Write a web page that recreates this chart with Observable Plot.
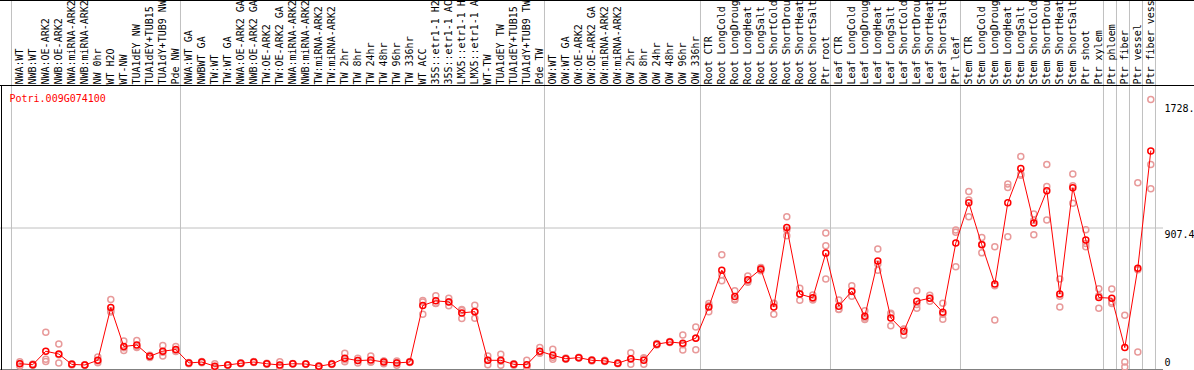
<!DOCTYPE html>
<html><head><meta charset="utf-8">
<script src="https://cdn.jsdelivr.net/npm/d3@7"></script>
<script src="https://cdn.jsdelivr.net/npm/@observablehq/plot@0.6"></script>
<style>body{margin:0;background:#fff} svg{display:block}</style>
</head><body><div id="chart"></div>
<script>
const geneId = "Potri.009G074100";

const samples = [
  "NWA:WT","NWB:WT","NWA:OE-ARK2","NWB:OE-ARK2","NWA:miRNA-ARK2","NWB:miRNA-ARK2","NW 0hr","WT H2O","WT-NW","TUA1dEY NW","TUA1dEY+TUB15","TUA1dY+TUB9 NW","Pde NW",
  "NWA:WT GA","NWBWT GA","TW:WT","TW:WT GA","NWA:OE-ARK2 GA","NWB:OE-ARK2 GA","TW:OE-ARK2","TW:OE-ARK2 GA","NWA:miRNA-ARK2","NWB:miRNA-ARK2","TW:miRNA-ARK2","TW:miRNA-ARK2","TW 2hr","TW 8hr","TW 24hr","TW 48hr","TW 96hr","TW 336hr","WT ACC","35S::etr1-1 H2O","35S::etr1-1 ACC","LMX5::etr1-1 H2O","LMX5::etr1-1 ACC","WT-TW","TUA1dEY TW","TUA1dEY+TUB15","TUA1dY+TUB9 TW","Pde TW",
  "OW:WT","OW:WT GA","OW:OE-ARK2","OW:OE-ARK2 GA","OW:miRNA-ARK2","OW:miRNA-ARK2","OW 2hr","OW 8hr","OW 24hr","OW 48hr","OW 96hr","OW 336hr",
  "Root CTR","Root LongCold","Root LongDrought","Root LongHeat","Root LongSalt","Root ShortCold","Root ShortDrought","Root ShortHeat","Root ShortSalt","Ptr root",
  "Leaf CTR","Leaf LongCold","Leaf LongDrought","Leaf LongHeat","Leaf LongSalt","Leaf ShortCold","Leaf ShortDrought","Leaf ShortHeat","Leaf ShortSalt","Ptr leaf",
  "Stem CTR","Stem LongCold","Stem LongDrought","Stem LongHeat","Stem LongSalt","Stem ShortCold","Stem ShortDrought","Stem ShortHeat","Stem ShortSalt","Ptr shoot","Ptr xylem",
  "Ptr phloem","Ptr fiber","Ptr vessel","Ptr fiber vessel"
];
const groupSizes = [13, 28, 12, 10, 10, 11, 1, 1, 1, 1];

const means = [
  40,34,120,102,36,32,62,399,150,160,88,120,131,
  45,51,24,32,43,51,40,32,40,38,24,38,75,60,64,51,45,51,412,442,435,365,373,62,62,36,34,120,
  94,72,79,62,58,43,72,62,165,179,171,203,
  403,638,469,576,645,403,911,485,461,747,
  408,504,344,696,333,248,440,459,369,811,
  1069,800,549,1069,1287,939,1146,485,1165,831,463,
  459,143,651,1400
];
const rep1 = [
  52,38,241,166,40,30,83,450,186,188,95,156,150,
  48,55,40,34,46,54,43,52,42,40,27,41,107,75,90,56,48,54,435,474,459,386,414,90,100,40,62,143,
  132,76,82,66,62,46,111,72,170,182,224,275,
  425,736,506,600,655,425,980,523,480,875,
  448,538,378,773,363,262,506,478,427,894,
  1140,847,788,1189,1364,997,1313,581,1253,897,519,
  517,350,1197,1728
];
const rep2 = [
  26,30,68,45,32,34,47,370,124,143,80,90,125,
  40,47,14,30,40,48,37,20,38,36,21,35,52,45,50,40,30,48,357,427,410,329,331,34,30,30,20,110,
  68,68,76,58,54,40,36,36,160,176,128,130,
  373,570,448,560,635,357,858,446,455,794,
  389,472,322,638,282,222,395,440,324,880,
  980,749,320,852,1253,864,1172,403,1065,788,395,
  425,51,115,1313
];
const rep3 = [
  42,34,55,97,36,32,58,378,142,150,88,114,118,
  46,51,18,32,43,51,40,24,40,38,24,38,66,60,52,57,57,51,444,425,436,380,374,62,56,38,20,107,
  82,72,79,62,58,43,69,78,165,179,161,204,
  411,608,453,568,645,427,895,486,448,581,
  387,502,332,677,354,260,419,459,356,660,
  1087,804,539,1166,1244,956,959,471,1177,808,475,
  435,19,641,1159
];

const tickValues = [0, 907.4, 1728];
const tickLabels = ["0", "907.4", "1728."];

const data = samples.map((s, i) => ({i, sample: s, mean: means[i]}));
const reps = [];
[rep1, rep2, rep3].forEach(arr => arr.forEach((v, i) => { if (v != null) reps.push({i, v}); }));
const bounds = [0];
groupSizes.reduce((acc, n) => { bounds.push(acc + n); return acc + n; }, 0);
const gridX = bounds.map(b => b - 0.64);
const ticks = tickValues.map((v, k) => ({v, label: tickLabels[k]}));

const frameLines = (index, scales, values, dims) => {
  const g = d3.create("svg:g").attr("stroke", "#000").attr("stroke-width", 1).attr("shape-rendering", "crispEdges");
  g.append("line").attr("x1", 0).attr("x2", dims.width).attr("y1", 0.5).attr("y2", 0.5);
  g.append("line").attr("x1", 0).attr("x2", dims.width).attr("y1", 85.5).attr("y2", 85.5);
  g.append("line").attr("x1", 1.5).attr("x2", 1.5).attr("y1", 85).attr("y2", 370);
  return g.node();
};

const chart = Plot.plot({
  width: 1194, height: 370,
  marginTop: 0, marginBottom: 1, marginLeft: 0, marginRight: 31,
  x: {type: "linear", domain: [0, samples.length - 1], range: [19.3, 1150.3], axis: null},
  y: {domain: [0, tickValues[2]], range: [369.5, 99.1], axis: null},
  style: {fontFamily: "'DejaVu Sans Mono', monospace", fontSize: "10px", background: "#fff", color: "#000", overflow: "hidden"},
  marks: [
    Plot.ruleX(gridX, {x: d => d, stroke: "#c0c0c0", strokeWidth: 1}),
    Plot.ruleY([tickValues[1]], {stroke: "#c0c0c0", strokeWidth: 1}),
    Plot.ruleY([tickValues[0]], {stroke: "#000", strokeWidth: 1}),
    frameLines,
    Plot.text(data, {x: "i", text: "sample", frameAnchor: "top", dy: 84, rotate: -90, textAnchor: "start", lineAnchor: "middle", fill: "#000"}),
    Plot.text([geneId], {frameAnchor: "top-left", dx: 9, dy: 94, textAnchor: "start", lineAnchor: "top", fill: "#ff0000"}),
    Plot.text(ticks.filter(t => t.v === tickValues[2]), {y: "v", text: "label", frameAnchor: "right", dx: 1, dy: 5, textAnchor: "start", lineAnchor: "top", fill: "#000"}),
    Plot.text(ticks.filter(t => t.v === tickValues[1]), {y: "v", text: "label", frameAnchor: "right", dx: 1, dy: 3, textAnchor: "start", lineAnchor: "top", fill: "#000"}),
    Plot.text(ticks.filter(t => t.v === tickValues[0]), {y: "v", text: "label", frameAnchor: "right", dx: 1, dy: -4, textAnchor: "start", lineAnchor: "bottom", fill: "#000"}),
    Plot.dot(reps, {x: "i", y: "v", r: 3, stroke: "#e89a9a", strokeWidth: 1.5, fill: "none"}),
    Plot.line(data, {x: "i", y: "mean", stroke: "#ff0000", strokeWidth: 1}),
    Plot.dot(data, {x: "i", y: "mean", r: 3, stroke: "#ff0000", strokeWidth: 1.5, fill: "none"})
  ]
});
document.getElementById("chart").appendChild(chart);
</script>
</body></html>
